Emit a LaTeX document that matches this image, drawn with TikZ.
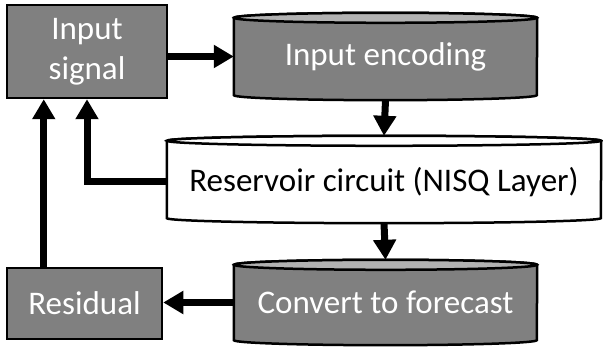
\documentclass[tikz,border=0pt]{standalone}
\usepackage{fontspec}
\setmainfont{Carlito}
\usetikzlibrary{arrows.meta,calc}
\definecolor{boxgray}{RGB}{128,128,128}
\definecolor{topgray}{RGB}{178,178,178}
\tikzset{
  lbl/.style={font=\fontsize{33}{40}\selectfont, inner sep=0pt, align=center},
  graybox/.style={lbl, draw=black, line width=2.5pt, fill=boxgray, text=white},
  cylbody/.style={lbl, minimum width=#1},
  arr/.style={line width=7pt, -{Triangle[width=22pt,length=20pt]}},
  outline/.style={draw=black, line width=2.5pt},
}
\newcommand{\drawcyl}[4]{% name, half width, body fill, top fill
  \path[outline, fill=#3] (#1.north west) -- (#1.south west)
     arc[start angle=180, end angle=360, x radius=#2, y radius=5pt]
     -- (#1.north east)
     arc[start angle=0, end angle=180, x radius=#2, y radius=5pt] -- cycle;
  \path[outline, fill=#4] (#1.north) ellipse[x radius=#2, y radius=5pt];
}
\begin{document}
\begin{tikzpicture}[x=1pt,y=1pt]
\useasboundingbox (0,0) rectangle (603,347);
% nodes
\node[graybox, minimum width=160pt, minimum height=93pt] (isig) at (87,295.5) {Input\\signal};
\node[lbl, minimum width=303pt, minimum height=77pt] (enc) at (385.5,290.5) {};
\node[lbl, minimum width=434pt, minimum height=77pt] (res) at (384,167.5) {};
\node[lbl, minimum width=303pt, minimum height=75pt] (conv) at (385.5,44.5) {};
\node[graybox, minimum width=155pt, minimum height=71pt] (resid) at (84.5,43.5) {Residual};
% cylinders
\drawcyl{enc}{151.5pt}{boxgray}{topgray}
\drawcyl{res}{217pt}{white}{white}
\drawcyl{conv}{151.5pt}{boxgray}{topgray}
\node[lbl, text=white] at (enc.center) {Input encoding};
\node[lbl, text=black] at ([yshift=-3pt]res.center) {Reservoir circuit (NISQ Layer)};
\node[lbl, text=white] at (conv.center) {Convert to forecast};
% connectors
\draw[arr] (isig.east |- enc.west) -- (enc.west);
\draw[arr] ([yshift=-5pt]enc.south) -- ([yshift=5pt]res.north);
\draw[arr] ([yshift=-5pt]res.south) -- ([yshift=5pt]conv.north);
\draw[arr] (conv.west) -- (resid.east |- conv.west);
\draw[arr] ([xshift=38pt]resid.north west) -- ([xshift=38pt]resid.north west |- isig.south);
\draw[arr] ([yshift=-2.5pt]res.west) -| (isig.south);
\end{tikzpicture}
\end{document}
